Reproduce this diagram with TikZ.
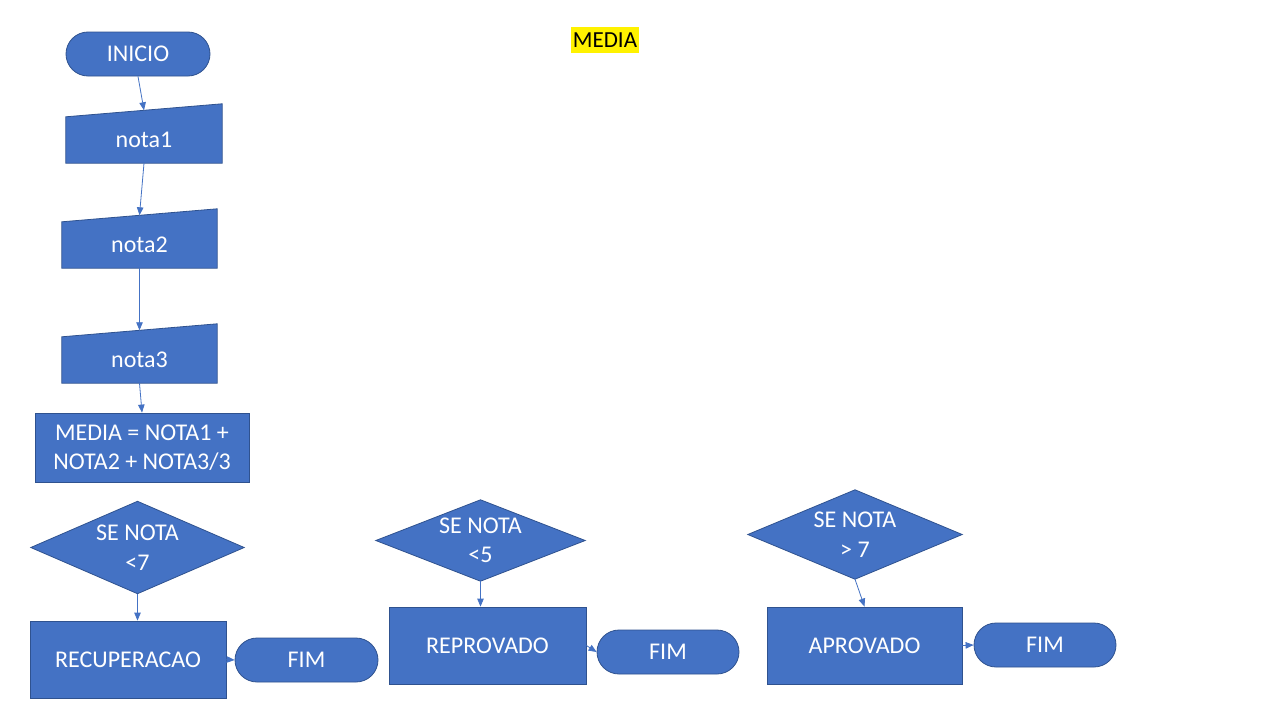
\documentclass[tikz,border=0pt]{standalone}
\usepackage{fontspec}
\setmainfont{Carlito}
\usetikzlibrary{positioning, arrows.meta, backgrounds}

\definecolor{flowblue}{HTML}{4472C4}
\definecolor{flowedge}{HTML}{2F528F}

\tikzset{
  shp/.style={fill=flowblue, draw=flowedge, line width=0.8pt},
  txt/.style={text=white, font=\fontsize{24}{29.5}\selectfont, align=center, inner sep=0pt},
  term/.style={shp, txt, rounded corners=22pt, minimum width=144pt, minimum height=44pt},
  proc/.style={shp, txt},
  link/.style={draw=flowblue, line width=0.8pt, -{Triangle[length=8pt,width=6.5pt]}}
}

\begin{document}
\begin{tikzpicture}[x=1pt, y=-1pt]
    \useasboundingbox (0,0) rectangle (1280,720);

    % title
    \node[fill=yellow, minimum width=68pt, minimum height=26pt, inner sep=0pt,
          font=\fontsize{23}{27}\selectfont] (title) at (605,40) {MEDIA};

    % left column
    \node[term] (inicio) at (138,54) {INICIO};
    \node[txt, minimum width=156pt, minimum height=46pt] (nota1) at (144,140) {nota1};
    \node[txt, minimum width=155pt, minimum height=46pt] (nota2) at (139.5,245) {nota2};
    \node[txt, minimum width=155pt, minimum height=46pt] (nota3) at (139.5,360) {nota3};
    \node[proc, minimum width=214pt, minimum height=69pt] (media) at (142,447.5)
        {MEDIA = NOTA1 +\\NOTA2 + NOTA3/3};

    % decisions
    \node[txt, minimum width=213pt, minimum height=92pt] (d1) at (137.5,547.5) {SE NOTA\\<7};
    \node[txt, minimum width=209pt, minimum height=81pt] (d2) at (480.5,540.5) {SE NOTA\\<5};
    \node[txt, minimum width=214pt, minimum height=89pt] (d3) at (855,534.5) {SE NOTA\\> 7};

    % results
    \node[proc, minimum width=196pt, minimum height=77pt] (recup) at (128,659.5) {RECUPERACAO};
    \node[proc, minimum width=197pt, minimum height=77pt] (reprov) at (487.5,645.5) {REPROVADO};
    \node[proc, minimum width=195pt, minimum height=77pt] (aprov) at (864.5,645.5) {APROVADO};
    \node[term, minimum width=143pt] (fim1) at (306.5,660) {FIM};
    \node[term, minimum width=142pt] (fim2) at (668,652) {FIM};
    \node[term, minimum width=142pt] (fim3) at (1045,645) {FIM};

    \begin{scope}[on background layer]
        \fill[white] (0,0) rectangle (1280,720);
        \foreach \n in {nota1,nota2,nota3}
            \draw[shp] (\n.south west) -- (\n.north west) -- ([yshift=13pt]\n.north east)
                -- (\n.south east) -- cycle;
        \foreach \n in {d1,d2,d3}
            \draw[shp] (\n.west) -- (\n.north) -- (\n.east) -- (\n.south) -- cycle;
    \end{scope}

    % connectors
    \draw[link] (inicio.south) -- ([yshift=6.5pt]nota1.north);
    \draw[link] (nota1.south) -- ([yshift=6.5pt]nota2.north);
    \draw[link] (nota2.south) -- ([yshift=6.5pt]nota3.north);
    \draw[link] (nota3.south) -- (media.north);
    \draw[link] (d1.south) -- (recup.north -| d1.south);
    \draw[link] (recup.east) -- (fim1.west);
    \draw[link] (d2.south) -- (reprov.north -| d2.south);
    \draw[link] (reprov.east) -- (fim2.west);
    \draw[link] (d3.south) -- (aprov.north);
    \draw[link] (aprov.east) -- (fim3.west);
\end{tikzpicture}
\end{document}
